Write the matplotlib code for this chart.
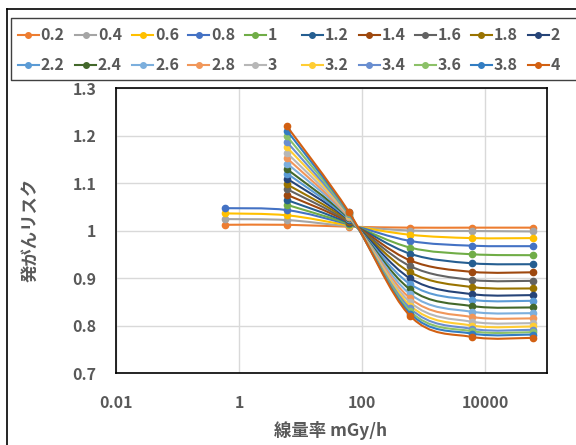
import numpy as np
import matplotlib
matplotlib.use("Agg")
import matplotlib.pyplot as plt
from matplotlib.path import Path
from matplotlib.patches import PathPatch
from matplotlib.lines import Line2D

plt.rcParams['font.family'] = ['Noto Sans CJK JP', 'DejaVu Sans']

## data

doses = [0.2, 0.4, 0.6, 0.8, 1, 1.2, 1.4, 1.6, 1.8, 2,
         2.2, 2.4, 2.6, 2.8, 3, 3.2, 3.4, 3.6, 3.8, 4]
dose_rates = [0.6, 6, 60, 600, 6000, 60000]

# risk at each dose rate, one entry per dose (None = no point)
risk_0_6 = [1.012, 1.024, 1.036, 1.047] + [None] * 16
risk_6 = [1.012, 1.022, 1.032, 1.043, 1.054, 1.064, 1.075, 1.087, 1.097, 1.109,
          1.120, 1.129, 1.141, 1.152, 1.163, 1.175, 1.186, 1.198, 1.210, 1.219]
risk_60 = [1.008, 1.009, 1.011, 1.013, 1.014, 1.016, 1.018, 1.019, 1.021, 1.023,
           1.024, 1.026, 1.028, 1.029, 1.031, 1.033, 1.034, 1.036, 1.038, 1.040]
risk_600 = [1.006, 1.000, 0.991, 0.978, 0.964, 0.951, 0.937, 0.925, 0.912, 0.899,
            0.887, 0.876, 0.866, 0.857, 0.849, 0.842, 0.836, 0.830, 0.825, 0.820]
risk_6000 = [1.006, 0.999, 0.984, 0.968, 0.950, 0.931, 0.913, 0.896, 0.881, 0.866,
             0.854, 0.841, 0.829, 0.818, 0.808, 0.800, 0.793, 0.788, 0.783, 0.776]
risk_60000 = [1.006, 0.998, 0.984, 0.967, 0.948, 0.929, 0.912, 0.894, 0.878, 0.864,
              0.852, 0.838, 0.826, 0.815, 0.805, 0.798, 0.791, 0.786, 0.781, 0.774]

colors = ['#ED7D31', '#A5A5A5', '#FFC000', '#4472C4', '#70AD47',
          '#255E91', '#9E480E', '#636363', '#997300', '#264478',
          '#5B9BD5', '#43682B', '#7CAFDD', '#F1975A', '#B7B7B7',
          '#FFCD33', '#698ED0', '#8CC168', '#327DC2', '#D26012']

columns = [risk_0_6, risk_6, risk_60, risk_600, risk_6000, risk_60000]

W, H = 576, 445
fig = plt.figure(figsize=(W / 100, H / 100), dpi=100)
ax = fig.add_axes([116 / W, 1 - 373 / H, (547 - 116) / W, (373 - 88) / H])

txt = '#595959'


def smooth_path(xs, ys):
    # Excel-style smoothed line: cubic Bezier through points, in log-x space
    lx = np.log10(xs)
    pts = np.column_stack([lx, ys])
    n = len(pts)
    verts = [pts[0]]
    codes = [Path.MOVETO]
    for i in range(n - 1):
        p0 = pts[max(i - 1, 0)]
        p1 = pts[i]
        p2 = pts[i + 1]
        p3 = pts[min(i + 2, n - 1)]
        c1 = p1 + (p2 - p0) / 6
        c2 = p2 - (p3 - p1) / 6
        verts += [c1, c2, p2]
        codes += [Path.CURVE4] * 3
    verts = np.array(verts)
    verts[:, 0] = 10 ** verts[:, 0]
    return Path(verts, codes)


for k, d in enumerate(doses):
    xs = [r for r, col in zip(dose_rates, columns) if col[k] is not None]
    ys = [col[k] for col in columns if col[k] is not None]
    patch = PathPatch(smooth_path(np.array(xs, float), np.array(ys, float)),
                      fill=False, edgecolor=colors[k], lw=1.5, zorder=3 + k * 0.01)
    ax.add_patch(patch)
    ax.plot(xs, ys, 'o', color=colors[k], ms=4.5, zorder=3.005 + k * 0.01)

ax.set_xscale('log')
ax.set_xlim(0.01, 1e5)
ax.set_ylim(0.7, 1.3)
ax.set_xticks([0.01, 1, 100, 10000])
ax.set_xticklabels(['0.01', '1', '100', '10000'])
ax.xaxis.set_minor_locator(matplotlib.ticker.NullLocator())
ax.set_yticks(np.arange(0.7, 1.301, 0.1))
ax.set_yticklabels(['0.7', '0.8', '0.9', '1', '1.1', '1.2', '1.3'])
ax.grid(True, color='#D9D9D9', lw=1)
ax.set_axisbelow(True)
ax.tick_params(length=0, labelsize=11.5, labelcolor=txt)
ax.tick_params(axis='x', pad=16)
ax.tick_params(axis='y', pad=14)
for lab in ax.get_xticklabels() + ax.get_yticklabels():
    lab.set_fontweight('bold')
for s in ax.spines.values():
    s.set_color('#000000')
    s.set_linewidth(1.2)

fig.text(331 / W, 1 - 430 / H, '線量率 mGy/h', ha='center', va='center',
         fontsize=12.5, fontweight='bold', color=txt)
fig.text(30 / W, 1 - 230 / H, '発がんリスク', ha='center', va='center',
         rotation=90, fontsize=12.5, fontweight='bold', color=txt)

# outer chart border (runs off the right and bottom edges)
fig.add_artist(Line2D([7 / W, 7 / W], [-0.1, 1 - 9 / H], transform=fig.transFigure,
                      color='#000000', lw=1.2))
fig.add_artist(Line2D([7 / W, 1.1], [1 - 9 / H, 1 - 9 / H], transform=fig.transFigure,
                      color='#000000', lw=1.2))

# legend box
lx0, ly0, ly1 = 11 / W, 1 - 80 / H, 1 - 18 / H
fig.add_artist(Line2D([1.1, lx0, lx0, 1.1], [ly1, ly1, ly0, ly0],
                      transform=fig.transFigure, color='#404040', lw=1.0))

starts = [17.5, 75, 132, 188, 244.5, 301.5, 358.5, 414.5, 470.5, 527.5]
rows = [35, 65]
for k, d in enumerate(doses):
    x0 = starts[k % 10]
    y = rows[k // 10]
    fig.add_artist(Line2D([x0 / W, (x0 + 21) / W], [1 - y / H, 1 - y / H],
                          transform=fig.transFigure, color=colors[k], lw=1.5))
    fig.add_artist(Line2D([(x0 + 10.5) / W], [1 - y / H], transform=fig.transFigure,
                          color=colors[k], marker='o', ms=4, ls='none'))
    fig.text((x0 + 23) / W, 1 - y / H, f'{d:g}', ha='left', va='center',
             fontsize=11.5, fontweight='bold', color=txt)

fig.savefig('out.png', dpi=100)
